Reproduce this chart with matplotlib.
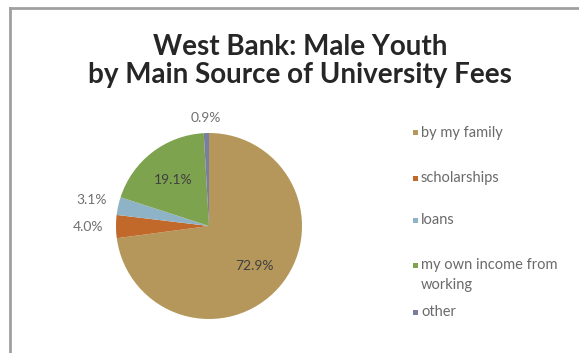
import matplotlib
matplotlib.use("Agg")
import numpy as np
import matplotlib.pyplot as plt
from matplotlib.patches import Rectangle
from matplotlib.lines import Line2D

plt.rcParams['font.family'] = ['Lato', 'DejaVu Sans']

sources = ["by my family", "scholarships", "loans",
           "my own income from\nworking", "other"]
shares = [72.9, 4.0, 3.1, 19.1, 0.9]
colors = ["#b5975b", "#c0692b", "#8fb3c6", "#7ea34f", "#7a7e9e"]
# how far from the centre each percentage sits
label_dist = [0.65, 1.30, 1.29, 0.63, 1.16]
label_colors = ["#404040", "#707070", "#707070", "#404040", "#707070"]

W, H = 579, 353
fig = plt.figure(figsize=(W / 100, H / 100), dpi=100)
fig.patch.set_facecolor("white")

# grey frame round the chart area (left and top edges only show)
fx, fy = 10 / W, 1 - 8 / H
fig.add_artist(Line2D([fx, fx], [-0.05, fy], transform=fig.transFigure,
                      color="#a0a0a0", linewidth=2.0))
fig.add_artist(Line2D([fx, 1.05], [fy, fy], transform=fig.transFigure,
                      color="#a0a0a0", linewidth=2.0))

cx, cy, r = 209, H - 226, 93
ax = fig.add_axes([(cx - r) / W, (cy - r) / H, 2 * r / W, 2 * r / H])
wedges, _, pcts = ax.pie(shares, colors=colors, startangle=90,
                         counterclock=False, autopct="%1.1f%%",
                         pctdistance=0.65,
                         wedgeprops=dict(linewidth=0))
ax.set_xlim(-1, 1)
ax.set_ylim(-1, 1)
ax.set_aspect("equal")

for w, t, d, c in zip(wedges, pcts, label_dist, label_colors):
    ang = np.deg2rad((w.theta1 + w.theta2) / 2)
    t.set_position((d * np.cos(ang), d * np.sin(ang)))
    t.set_color(c)
    t.set_fontsize(10)

fig.text(300 / W, (H - 55) / H, "West Bank: Male Youth", ha="center",
         va="baseline", fontsize=20, fontweight="bold", color="#262626")
fig.text(300 / W, (H - 83) / H, "by Main Source of University Fees",
         ha="center", va="baseline", fontsize=20, fontweight="bold",
         color="#262626")

# legend: small square followed by the label, top line level with the square
legend_y = [133, 178, 220, 265, 312]
for name, c, y in zip(sources, colors, legend_y):
    fig.add_artist(Rectangle(((415 - 2.5) / W, (H - y - 2.5) / H),
                             5 / W, 5 / H, transform=fig.transFigure,
                             facecolor=c, edgecolor="none"))
    fig.text(421 / W, (H - y + 7) / H, name, ha="left", va="top",
             fontsize=10.5, color="#6a6a6a", linespacing=1.5)

fig.savefig("out.png", dpi=100, facecolor="white")
